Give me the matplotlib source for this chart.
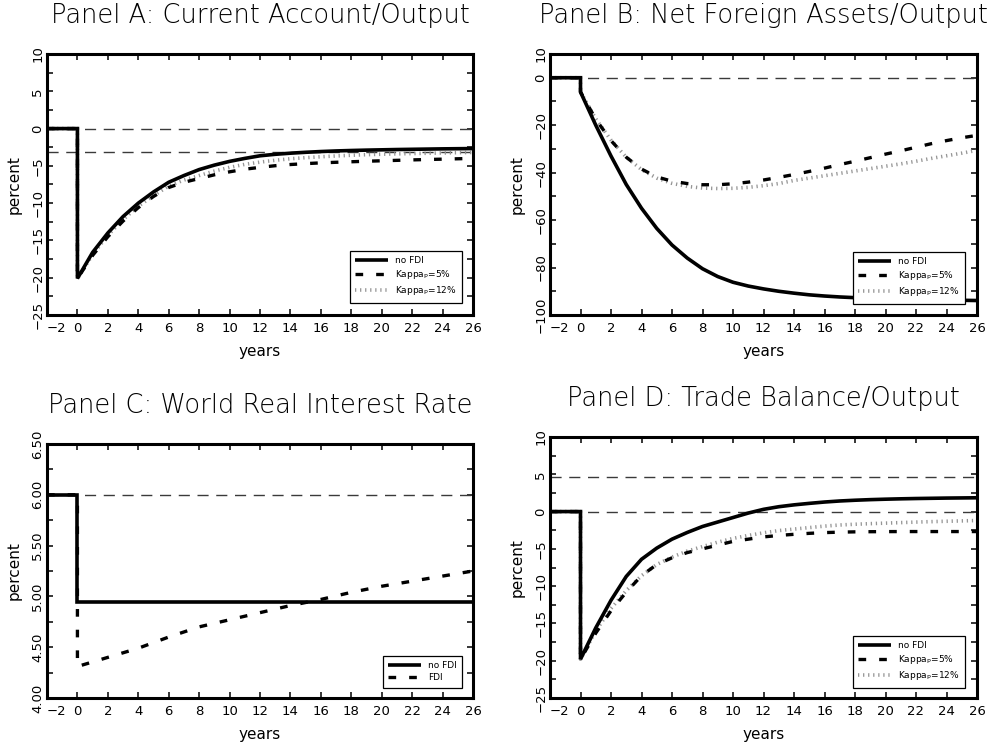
import matplotlib
matplotlib.use("Agg")
import matplotlib.pyplot as plt
from matplotlib.ticker import FixedLocator, FormatStrFormatter

plt.rcParams['font.family'] = ['DejaVu Sans']
plt.rcParams['ytick.alignment'] = 'center'

# ---------------- data ----------------
years_pre = [-2, 0]
years = list(range(0, 27))
years_c = list(range(0, 27, 2))

# Panel A: Current Account / Output
ca_pre = 0.0
ca_nofdi = [-20.1, -16.6, -14.0, -11.8, -10.0, -8.5, -7.2, -6.3, -5.5, -4.9, -4.4, -4.0, -3.65,
            -3.45, -3.3, -3.18, -3.08, -3.0, -2.94, -2.89, -2.85, -2.81, -2.78, -2.75, -2.72, -2.7, -2.68]
ca_k5 = [-20.1, -17.0, -14.5, -12.4, -10.6, -9.1, -7.9, -7.2, -6.7, -6.2, -5.8, -5.45, -5.2,
         -4.98, -4.82, -4.7, -4.6, -4.52, -4.45, -4.38, -4.32, -4.26, -4.2, -4.15, -4.1, -4.05, -4.0]
ca_k12 = [-20.1, -16.9, -14.3, -12.2, -10.4, -9.0, -7.7, -6.9, -6.3, -5.7, -5.2, -4.8, -4.5,
          -4.25, -4.05, -3.9, -3.78, -3.67, -3.58, -3.5, -3.44, -3.39, -3.35, -3.31, -3.27, -3.23, -3.2]
ca_ref = [0.0, -3.1]

# Panel B: Net Foreign Assets / Output
nfa_pre = 0.0
nfa_nofdi = [-6.0, -20.0, -33.0, -45.0, -55.0, -63.5, -70.5, -76.0, -80.5, -83.8, -86.2, -87.8, -89.0,
             -90.0, -90.8, -91.5, -92.0, -92.4, -92.7, -93.0, -93.2, -93.4, -93.5, -93.6, -93.7, -93.8, -93.9]
nfa_k5 = [-6.0, -17.5, -26.5, -33.5, -38.5, -41.8, -43.6, -44.6, -45.1, -45.1, -44.7, -44.0, -43.1,
          -42.0, -40.8, -39.5, -38.1, -36.6, -35.2, -33.7, -32.2, -30.8, -29.3, -27.8, -26.5, -25.3, -24.3]
nfa_k12 = [-6.0, -17.3, -26.3, -33.5, -38.7, -42.3, -44.5, -45.8, -46.5, -46.7, -46.6, -46.2, -45.5,
           -44.6, -43.3, -42.3, -41.3, -40.3, -39.3, -38.3, -37.3, -36.3, -35.2, -34.0, -32.9, -31.8, -30.6]
nfa_ref = [0.0]

# Panel C: World Real Interest Rate
r_pre = 6.0
r_nofdi = [4.94] * 14
r_fdi = [4.31, 4.40, 4.49, 4.60, 4.70, 4.77, 4.84, 4.91, 4.97, 5.04, 5.10, 5.15, 5.20, 5.25]
r_ref = [6.0]

# Panel D: Trade Balance / Output
tb_pre = 0.0
tb_nofdi = [-19.8, -15.6, -11.9, -8.7, -6.4, -4.9, -3.7, -2.8, -2.0, -1.4, -0.8, -0.2, 0.3,
            0.65, 0.9, 1.1, 1.28, 1.42, 1.52, 1.6, 1.66, 1.71, 1.75, 1.78, 1.81, 1.83, 1.85]
tb_k5 = [-19.8, -16.3, -13.3, -10.8, -8.6, -7.1, -6.2, -5.5, -5.0, -4.5, -4.0, -3.7, -3.4,
         -3.2, -3.05, -2.92, -2.82, -2.76, -2.72, -2.7, -2.69, -2.68, -2.68, -2.68, -2.68, -2.68, -2.68]
tb_k12 = [-19.8, -16.0, -13.0, -10.6, -8.6, -7.1, -6.1, -5.3, -4.7, -4.1, -3.6, -3.2, -2.85,
          -2.55, -2.35, -2.15, -1.95, -1.8, -1.7, -1.62, -1.55, -1.48, -1.41, -1.35, -1.3, -1.25, -1.2]
tb_ref = [0.0, 4.6]

titles = ["Panel A: Current Account/Output", "Panel B: Net Foreign Assets/Output",
          "Panel C: World Real Interest Rate", "Panel D: Trade Balance/Output"]
lab_nofdi = "no FDI"
lab_k5 = r"Kappa$_{\mathrm{P}}$=5%"
lab_k12 = r"Kappa$_{\mathrm{P}}$=12%"
lab_fdi = "FDI"
xticks = list(range(-2, 27, 2))

# ---------------- styles ----------------
st_solid = dict(color='black', lw=2.6, solid_capstyle='butt', solid_joinstyle='miter')
st_dash = dict(color='black', lw=2.4, linestyle=(0, (2.3, 3.9)))
st_dot = dict(color='#959595', lw=2.6, linestyle=(0, (0.35, 1.05)))
st_ref = dict(color='#3a3a3a', lw=1.0, linestyle=(0, (8, 5.5)))


def series(pre, t, v):
    return years_pre + list(t), [pre, pre] + list(v)


fig = plt.figure(figsize=(9.99, 7.49), dpi=100)
W, H = 999.0, 749.0


def make_ax(l, r, t, b):
    return fig.add_axes([l / W, 1 - b / H, (r - l) / W, (b - t) / H])


axA = make_ax(47, 473, 54, 315)
axB = make_ax(550, 977, 54, 315)
axC = make_ax(47, 473, 444, 698)
axD = make_ax(550, 977, 437, 698)


def style(ax, title, ylim, majors, minors, fmt=None):
    ax.set_xlim(-2, 26)
    ax.set_ylim(*ylim)
    ax.set_xticks(xticks, labels=[str(x).replace('-', '\u2212') for x in xticks])
    ax.get_xticklabels()[0].set_ha('left')
    ax.yaxis.set_major_locator(FixedLocator(majors))
    ax.yaxis.set_minor_locator(FixedLocator(minors))
    if fmt:
        ax.yaxis.set_major_formatter(FormatStrFormatter(fmt))
    ax.tick_params(which='both', direction='in', top=True, right=True, length=4, width=1.1)
    ax.tick_params(axis='x', labelsize=9.5, pad=5)
    ax.tick_params(axis='y', labelsize=9.5, labelrotation=90, pad=2)
    for s in ax.spines.values():
        s.set_linewidth(2.2)
    ax.set_title(title, fontsize=18.5, pad=22, fontweight='light', color='black')
    ax.set_ylabel("percent", fontsize=11)
    ax.set_xlabel("years", fontsize=11)
    ax.yaxis.set_label_coords(-0.0587 * 426 / (ax.get_position().width * W), 0.5)
    hgt = ax.get_position().height * H
    ax.xaxis.set_label_coords(0.5, -29.0 / hgt)


def legend(ax, handles, labels, x, y):
    lg = ax.legend(handles, labels, loc='lower right', bbox_to_anchor=(x, y),
                   prop={'size': 6.5, 'weight': 'normal'},
                   frameon=True, fancybox=False, framealpha=1, edgecolor='black',
                   handlelength=3.6, handletextpad=0.8, labelspacing=0.35, borderpad=0.6)
    lg.get_frame().set_linewidth(0.9)


# Panel A
for yv in ca_ref:
    axA.axhline(yv, **st_ref)
x, y = series(ca_pre, years, ca_k12); hA3, = axA.plot(x, y, **st_dot)
x, y = series(ca_pre, years, ca_k5); hA2, = axA.plot(x, y, **st_dash)
x, y = series(ca_pre, years, ca_nofdi); hA1, = axA.plot(x, y, **st_solid)
style(axA, titles[0], (-25, 10), list(range(-25, 11, 5)), [v + 2.5 for v in range(-25, 10, 5)])
legend(axA, [hA1, hA2, hA3], [lab_nofdi, lab_k5, lab_k12], 0.985, 0.03)

# Panel B
for yv in nfa_ref:
    axB.axhline(yv, **st_ref)
x, y = series(nfa_pre, years, nfa_k12); hB3, = axB.plot(x, y, **st_dot)
x, y = series(nfa_pre, years, nfa_k5); hB2, = axB.plot(x, y, **st_dash)
x, y = series(nfa_pre, years, nfa_nofdi); hB1, = axB.plot(x, y, **st_solid)
style(axB, titles[1], (-100, 10), [-100, -80, -60, -40, -20, 0, 10], [-90, -70, -50, -30, -10])
legend(axB, [hB1, hB2, hB3], [lab_nofdi, lab_k5, lab_k12], 0.983, 0.026)

# Panel C
for yv in r_ref:
    axC.axhline(yv, **st_ref)
x, y = series(r_pre, years_c, r_fdi); hC2, = axC.plot(x, y, **st_dash)
x, y = series(r_pre, years_c, r_nofdi); hC1, = axC.plot(x, y, **st_solid)
style(axC, titles[2], (4.0, 6.5), [4.0, 4.5, 5.0, 5.5, 6.0, 6.5], [4.25, 4.75, 5.25, 5.75, 6.25], '%.2f')
legend(axC, [hC1, hC2], [lab_nofdi, lab_fdi], 0.985, 0.023)

# Panel D
for yv in tb_ref:
    axD.axhline(yv, **st_ref)
x, y = series(tb_pre, years, tb_k12); hD3, = axD.plot(x, y, **st_dot)
x, y = series(tb_pre, years, tb_k5); hD2, = axD.plot(x, y, **st_dash)
x, y = series(tb_pre, years, tb_nofdi); hD1, = axD.plot(x, y, **st_solid)
style(axD, titles[3], (-25, 10), list(range(-25, 11, 5)), [v + 2.5 for v in range(-25, 10, 5)])
legend(axD, [hD1, hD2, hD3], [lab_nofdi, lab_k5, lab_k12], 0.983, 0.022)

fig.savefig("out.png", dpi=100)
